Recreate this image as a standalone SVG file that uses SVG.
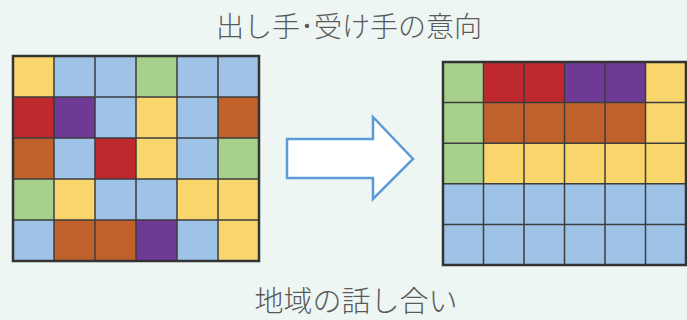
<svg xmlns="http://www.w3.org/2000/svg" width="687" height="320" viewBox="0 0 687 320">
<style>
.t{font-family:"Noto Sans CJK JP","Noto Sans CJK SC",sans-serif;fill:#5a5a5a;text-anchor:middle;font-weight:300}
.Y{fill:#f9d66c}.B{fill:#9ec3e6}.G{fill:#a8d08d}.R{fill:#c0282f}.P{fill:#6e3a93}.O{fill:#c0602b}
.gl{stroke:#3d3d3d;stroke-width:1.5;fill:none}
.bd{stroke:#333;stroke-width:2.5;fill:none}
</style>
<rect width="687" height="320" fill="#edf6f3"/>
<text class="t" x="349" y="37" font-size="28">出し手･受け手の意向</text>
<text class="t" x="356" y="312" font-size="29">地域の話し合い</text>
<g id="left-grid">
<g transform="translate(13,56)">
<rect class="Y" x="0" y="0" width="41" height="41"/><rect class="B" x="41" y="0" width="41" height="41"/><rect class="B" x="82" y="0" width="41" height="41"/><rect class="G" x="123" y="0" width="41" height="41"/><rect class="B" x="164" y="0" width="41" height="41"/><rect class="B" x="205" y="0" width="41" height="41"/>
<rect class="R" x="0" y="41" width="41" height="41"/><rect class="P" x="41" y="41" width="41" height="41"/><rect class="B" x="82" y="41" width="41" height="41"/><rect class="Y" x="123" y="41" width="41" height="41"/><rect class="B" x="164" y="41" width="41" height="41"/><rect class="O" x="205" y="41" width="41" height="41"/>
<rect class="O" x="0" y="82" width="41" height="41"/><rect class="B" x="41" y="82" width="41" height="41"/><rect class="R" x="82" y="82" width="41" height="41"/><rect class="Y" x="123" y="82" width="41" height="41"/><rect class="B" x="164" y="82" width="41" height="41"/><rect class="G" x="205" y="82" width="41" height="41"/>
<rect class="G" x="0" y="123" width="41" height="41"/><rect class="Y" x="41" y="123" width="41" height="41"/><rect class="B" x="82" y="123" width="41" height="41"/><rect class="B" x="123" y="123" width="41" height="41"/><rect class="Y" x="164" y="123" width="41" height="41"/><rect class="Y" x="205" y="123" width="41" height="41"/>
<rect class="B" x="0" y="164" width="41" height="41"/><rect class="O" x="41" y="164" width="41" height="41"/><rect class="O" x="82" y="164" width="41" height="41"/><rect class="P" x="123" y="164" width="41" height="41"/><rect class="B" x="164" y="164" width="41" height="41"/><rect class="Y" x="205" y="164" width="41" height="41"/>
<path class="gl" d="M41 0V205M82 0V205M123 0V205M164 0V205M205 0V205M0 41H246M0 82H246M0 123H246M0 164H246"/>
<rect class="bd" x="0" y="0" width="246" height="205"/>
</g>
</g>
<g id="arrow">
<path d="M287 139H373V117L413 159L373 199V178H287Z" fill="#fff" stroke="#5b9bd5" stroke-width="2.5" stroke-linejoin="miter"/>
</g>
<g id="right-grid">
<g transform="translate(443,62)">
<rect class="G" x="0" y="0" width="40.5" height="40.6"/><rect class="R" x="40.5" y="0" width="81" height="40.6"/><rect class="P" x="121.5" y="0" width="81" height="40.6"/><rect class="Y" x="202.5" y="0" width="40.5" height="40.6"/>
<rect class="G" x="0" y="40.6" width="40.5" height="40.6"/><rect class="O" x="40.5" y="40.6" width="162" height="40.6"/><rect class="Y" x="202.5" y="40.6" width="40.5" height="40.6"/>
<rect class="G" x="0" y="81.2" width="40.5" height="40.6"/><rect class="Y" x="40.5" y="81.2" width="202.5" height="40.6"/>
<rect class="B" x="0" y="121.8" width="243" height="81.2"/>
<path class="gl" d="M40.5 0V203M81 0V203M121.5 0V203M162 0V203M202.5 0V203M0 40.6H243M0 81.2H243M0 121.8H243M0 162.4H243"/>
<rect class="bd" x="0" y="0" width="243" height="203"/>
</g>
</g>
</svg>
